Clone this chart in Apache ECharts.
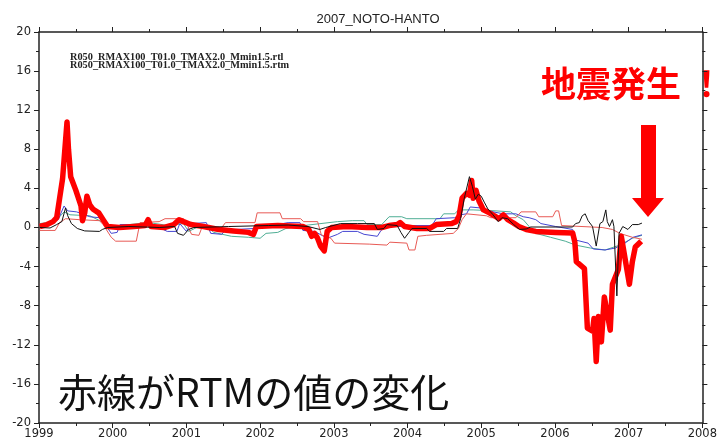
<!DOCTYPE html>
<html>
<head>
<meta charset="utf-8">
<script src="https://cdn.jsdelivr.net/npm/echarts@6/dist/echarts.min.js"></script>
<style>
  html, body { margin: 0; padding: 0; background: #fff; }
  #chart { width: 720px; height: 445px; }
</style>
</head>
<body>
<div id="chart"></div>
<script>
// Time axis values are decimal years.
const yTicks = [-20, -16, -12, -8, -4, 0, 4, 8, 12, 16, 20];
const xYears = [1999, 2000, 2001, 2002, 2003, 2004, 2005, 2006, 2007, 2008];

// RTM (thick red)
const rtmT = [1999.01, 1999.11, 1999.19, 1999.24, 1999.28, 1999.32, 1999.38, 1999.40, 1999.43, 1999.50, 1999.57, 1999.59, 1999.62, 1999.65, 1999.69, 1999.73, 1999.81, 1999.87, 1999.93, 2000.09, 2000.29, 2000.44, 2000.48, 2000.52, 2000.70, 2000.83, 2000.90, 2000.96, 2001.06, 2001.23, 2001.44, 2001.64, 2001.84, 2001.91, 2001.95, 2002.24, 2002.58, 2002.66, 2002.70, 2002.74, 2002.78, 2002.82, 2002.87, 2002.91, 2002.97, 2003.18, 2003.45, 2003.65, 2003.75, 2003.86, 2003.90, 2003.96, 2004.13, 2004.30, 2004.39, 2004.60, 2004.66, 2004.70, 2004.74, 2004.80, 2004.84, 2004.87, 2004.89, 2004.93, 2004.97, 2005.03, 2005.11, 2005.18, 2005.24, 2005.30, 2005.36, 2005.44, 2005.51, 2005.61, 2005.74, 2006.01, 2006.24, 2006.27, 2006.29, 2006.40, 2006.44, 2006.51, 2006.53, 2006.56, 2006.59, 2006.63, 2006.67, 2006.75, 2006.78, 2006.86, 2006.90, 2007.01, 2007.05, 2007.09, 2007.17];
const rtmV = [0.1, 0.3, 0.6, 1.0, 3.0, 5.0, 10.8, 8.0, 5.2, 3.8, 2.2, 0.7, 1.5, 3.2, 2.3, 1.9, 1.5, 0.8, 0.1, 0.0, 0.1, 0.2, 0.8, 0.1, 0.0, 0.3, 0.8, 0.6, 0.3, 0.1, -0.2, -0.35, -0.5, -0.7, 0.1, 0.2, 0.1, -0.2, -0.9, -0.6, -1.1, -1.9, -2.4, -0.4, 0.0, 0.1, 0.0, 0.0, 0.2, 0.3, 0.5, 0.1, -0.1, -0.1, 0.3, 0.4, 0.6, 1.2, 3.0, 3.5, 3.3, 4.8, 3.0, 3.8, 2.7, 1.8, 1.5, 1.2, 0.9, 1.3, 0.8, 0.45, 0.1, -0.2, -0.4, -0.5, -0.55, -1.5, -3.5, -4.2, -10.3, -10.6, -9.3, -13.7, -9.1, -11.7, -7.1, -10.5, -5.8, -4.3, -0.9, -5.8, -3.5, -2.0, -1.4];

// Black
const blackT = [1999.01, 1999.15, 1999.24, 1999.31, 1999.36, 1999.39, 1999.44, 1999.52, 1999.62, 1999.82, 1999.86, 1999.93, 2000.22, 2000.63, 2000.84, 2000.88, 2000.96, 2001.03, 2001.10, 2001.57, 2002.11, 2002.38, 2002.65, 2002.81, 2002.89, 2003.09, 2003.32, 2003.55, 2003.59, 2003.68, 2003.72, 2003.86, 2003.91, 2003.96, 2004.02, 2004.06, 2004.26, 2004.30, 2004.49, 2004.53, 2004.68, 2004.72, 2004.77, 2004.84, 2004.88, 2004.92, 2004.96, 2005.00, 2005.04, 2005.09, 2005.16, 2005.23, 2005.28, 2005.36, 2005.44, 2005.52, 2005.61, 2005.67, 2006.24, 2006.28, 2006.33, 2006.37, 2006.41, 2006.45, 2006.51, 2006.56, 2006.61, 2006.65, 2006.69, 2006.71, 2006.74, 2006.78, 2006.80, 2006.84, 2006.87, 2006.92, 2006.99, 2007.05, 2007.13, 2007.18];
const blackV = [0.0, -0.05, 0.3, 0.6, 2.0, 1.2, 0.4, -0.1, -0.35, -0.4, -0.2, 0.0, 0.1, 0.0, 0.1, -0.6, -0.8, -0.2, 0.0, 0.1, 0.2, 0.25, 0.1, -0.2, 0.0, 0.4, 0.4, 0.4, -0.2, -0.1, 0.3, 0.2, -0.5, -1.1, -0.5, -0.1, -0.1, -0.4, -0.4, -0.1, -0.1, 0.9, 3.0, 5.2, 4.2, 2.9, 3.4, 3.2, 2.6, 1.9, 1.3, 0.6, 1.0, 0.9, 0.3, -0.2, -0.15, 0.05, 0.05, 0.4, 0.5, 1.2, 1.4, 0.7, 0.1, -1.9, 0.4, 0.6, 1.8, 0.6, 0.1, 0.8, 0.1, -7.0, -0.6, 0.1, -0.2, 0.3, 0.3, 0.45];

// Blue
const blueT = [1999.01, 1999.15, 1999.26, 1999.34, 1999.39, 1999.51, 1999.69, 1999.82, 1999.90, 1999.98, 2000.06, 2000.10, 2000.47, 2000.63, 2000.74, 2000.87, 2000.91, 2001.00, 2001.06, 2001.27, 2001.33, 2001.48, 2001.53, 2001.93, 2002.38, 2002.54, 2002.58, 2002.74, 2002.91, 2003.05, 2003.12, 2003.32, 2003.41, 2003.59, 2003.64, 2003.72, 2003.92, 2003.99, 2004.33, 2004.39, 2004.64, 2004.72, 2004.80, 2004.85, 2004.99, 2005.07, 2005.16, 2005.30, 2005.47, 2005.57, 2005.65, 2005.74, 2005.81, 2006.01, 2006.24, 2006.29, 2006.45, 2006.52, 2006.68, 2006.82, 2006.95, 2007.06, 2007.18];
const blueV = [0.3, 0.5, 0.8, 2.2, 1.7, 1.6, 1.1, 1.0, 0.3, -0.6, -0.5, 0.3, 0.3, 0.0, -0.4, -0.4, 0.4, -0.4, 0.4, 0.5, -0.6, -0.7, -0.25, -0.1, 0.5, 0.5, -0.3, -0.4, -1.1, -0.7, -0.4, -0.4, -0.7, -0.9, -0.3, 0.1, 0.1, 0.2, 0.2, 0.9, 1.0, 1.3, 1.4, 2.1, 2.0, 1.8, 1.6, 1.4, 1.4, 1.1, 1.0, 0.8, 0.4, 0.1, -0.2, -1.3, -1.6, -2.2, -2.3, -2.1, -1.6, -1.0, -0.75];

// Green
const greenT = [1999.01, 1999.22, 1999.34, 1999.42, 1999.69, 1999.85, 1999.93, 2000.22, 2000.49, 2000.76, 2000.96, 2001.03, 2001.14, 2001.30, 2001.37, 2001.61, 2001.84, 2002.00, 2002.08, 2002.24, 2002.35, 2002.51, 2002.65, 2003.05, 2003.25, 2003.41, 2003.45, 2003.65, 2003.75, 2003.92, 2003.99, 2004.44, 2004.49, 2004.64, 2004.69, 2004.89, 2005.20, 2005.40, 2005.47, 2005.57, 2005.65, 2005.74, 2005.94, 2006.14, 2006.28, 2006.48, 2006.68, 2006.88, 2007.05, 2007.18];
const greenV = [0.4, 0.6, 1.6, 1.3, 1.2, 0.6, 0.1, 0.3, 0.5, 0.2, 0.4, -0.4, 0.0, 0.0, -0.5, -0.9, -1.0, -1.1, -0.6, -0.5, -0.1, 0.1, 0.25, 0.6, 0.7, 0.7, 0.3, 0.3, 1.1, 1.1, 0.9, 0.9, 1.4, 1.4, 1.8, 1.8, 1.7, 1.6, 1.2, 0.8, 0.1, -0.6, -1.0, -1.4, -1.8, -2.1, -2.3, -1.8, -1.1, -0.8];

// RTL (thin red)
const rtlT = [1999.01, 1999.22, 1999.28, 1999.36, 1999.55, 1999.82, 1999.87, 1999.98, 2000.04, 2000.32, 2000.37, 2000.63, 2000.71, 2000.96, 2001.02, 2001.07, 2001.17, 2001.21, 2001.48, 2001.53, 2001.93, 2001.96, 2002.27, 2002.30, 2002.55, 2002.59, 2002.78, 2002.83, 2002.96, 2003.01, 2003.48, 2003.72, 2003.76, 2003.99, 2004.02, 2004.10, 2004.14, 2004.26, 2004.62, 2004.69, 2004.74, 2004.80, 2005.07, 2005.13, 2005.47, 2005.54, 2005.74, 2005.78, 2005.97, 2006.01, 2006.05, 2006.09, 2006.64, 2006.78, 2006.88, 2007.05, 2007.18];
const rtlV = [-0.3, -0.3, 0.5, 0.9, 0.8, 0.7, 0.3, -1.0, -1.4, -1.4, 0.5, 0.6, 0.9, 0.9, 0.1, -0.7, -0.8, 0.0, 0.0, 0.5, 0.5, 1.5, 1.5, 0.9, 0.9, 0.6, 0.6, -0.75, -1.1, -1.6, -1.7, -1.8, -1.5, -1.6, -2.3, -2.3, -0.9, -0.8, -0.6, -0.1, 0.8, 1.4, 1.2, 1.0, 1.0, 1.6, 1.6, 1.1, 1.1, 1.7, 1.7, 0.2, 0.0, -0.2, -0.6, -1.0, -1.2];

const legendLines = [
  'R050_RMAX100_T01.0_TMAX2.0_Mmin1.5.rtl',
  'R050_RMAX100_T01.0_TMAX2.0_Mmin1.5.rtm'
];

const zip = (t, v) => t.map((x, i) => [x, v[i]]);

const axisColor = '#222';
const labelFont = { fontFamily: 'DejaVu Sans', fontSize: 11.5, color: '#222' };

function xAxisDef(pos, showLabel) {
  return {
    type: 'value', position: pos, min: xYears[0], max: xYears[xYears.length - 1], interval: 1,
    axisLine: { show: true, onZero: false, lineStyle: { color: axisColor, width: 1.5 } },
    axisTick: { show: true, length: 5, lineStyle: { color: axisColor, width: 1 } },
    minorTick: { show: true, splitNumber: 2, length: 3, lineStyle: { color: axisColor, width: 1 } },
    splitLine: { show: false },
    axisLabel: Object.assign({ show: showLabel, margin: 5, formatter: v => String(v) }, labelFont)
  };
}
function yAxisDef(pos, showLabel) {
  return {
    type: 'value', position: pos, min: yTicks[0], max: yTicks[yTicks.length - 1], interval: 4,
    axisLine: { show: true, onZero: false, lineStyle: { color: axisColor, width: 1.5 } },
    axisTick: { show: true, length: 5, lineStyle: { color: axisColor, width: 1 } },
    minorTick: { show: true, splitNumber: 2, length: 3, lineStyle: { color: axisColor, width: 1 } },
    splitLine: { show: false },
    axisLabel: Object.assign({ show: showLabel, margin: 8, formatter: v => String(v) }, labelFont)
  };
}

function thin(name, data, color, width) {
  return {
    name, type: 'line', data, showSymbol: false, symbol: 'none',
    lineStyle: { color, width: width || 1 }, animation: false, z: 2
  };
}

const chart = echarts.init(document.getElementById('chart'), null, { renderer: 'canvas' });
chart.setOption({
  backgroundColor: '#fff',
  animation: false,
  title: {
    text: '2007_NOTO-HANTO', left: 373, top: 8, textAlign: 'center',
    textStyle: { fontFamily: 'Liberation Sans', fontSize: 13, fontWeight: 'normal', color: '#222' }
  },
  grid: { left: 39, right: 12, top: 32, bottom: 22 },
  xAxis: [xAxisDef('bottom', true), xAxisDef('top', false)],
  yAxis: [yAxisDef('left', true), yAxisDef('right', false)],
  series: [
    thin('green', zip(greenT, greenV), '#4fae95'),
    thin('blue', zip(blueT, blueV), '#4646d2'),
    thin('rtl', zip(rtlT, rtlV), '#e85a55'),
    {
      name: 'rtm', type: 'line', data: zip(rtmT, rtmV), showSymbol: false, symbol: 'none',
      lineStyle: { color: '#ff0000', width: 5.5, join: 'round' }, animation: false, z: 3
    },
    Object.assign(thin('black', zip(blackT, blackV), '#111'), { z: 4 })
  ],
  graphic: [
    {
      type: 'text', x: 70, y: 52, scaleX: 1.03,
      style: { text: legendLines[0], font: 'bold 10px "Liberation Serif"', fill: '#222' }
    },
    {
      type: 'text', x: 70, y: 60, scaleX: 1.03,
      style: { text: legendLines[1], font: 'bold 10px "Liberation Serif"', fill: '#222' }
    },
    {
      type: 'text', x: 541, y: 84,
      style: {
        text: '地震発生 ！', font: 'bold 35px "Noto Sans CJK JP"', fill: '#ff0000',
        textVerticalAlign: 'middle'
      }
    },
    {
      type: 'polygon', z: 100,
      shape: { points: [[641, 125], [656, 125], [656, 198], [664, 198], [648, 217], [632, 198], [641, 198]] },
      style: { fill: '#ff0000' }
    },
    {
      type: 'text', x: 58, y: 392,
      style: {
        text: '赤線がRTMの値の変化', font: '39px "Noto Sans CJK JP"', fill: '#111',
        textVerticalAlign: 'middle'
      }
    }
  ]
});
</script>
</body>
</html>
